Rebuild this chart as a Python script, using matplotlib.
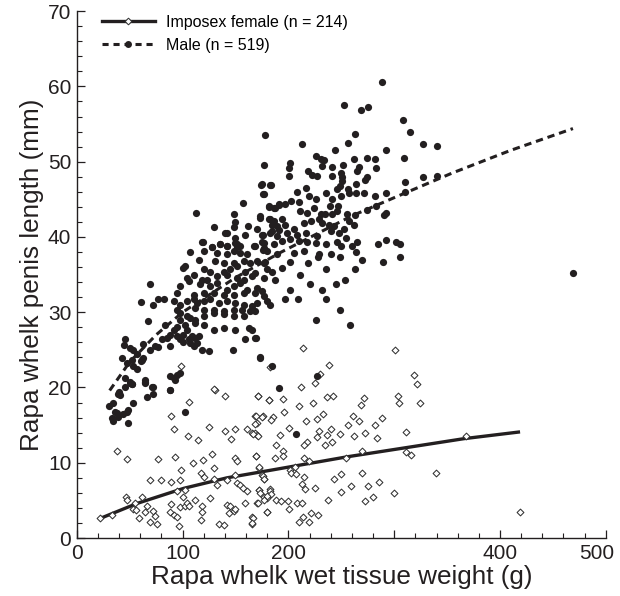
import numpy as np
import matplotlib
matplotlib.use("Agg")
import matplotlib.pyplot as plt
from matplotlib.lines import Line2D
from matplotlib.ticker import MultipleLocator
from matplotlib.transforms import ScaledTranslation

plt.rcParams["font.family"] = ["Liberation Sans", "DejaVu Sans"]

# male penis length vs wet tissue weight
male_w = [
    119.2, 119.8, 107.2, 127.7, 135.6, 141.9, 149.8, 151.4, 148.2, 132.4, 141.9, 154.6, 160.9, 167.2,
    175.1, 176.0, 170.4, 176.7, 164.0, 157.7, 148.2, 138.8, 130.9, 115.1, 102.4, 100.8, 119.8, 126.1,
    138.8, 145.1, 151.4, 159.3, 168.8, 179.8, 110.3, 118.2, 123.0, 132.4, 141.9, 151.4, 157.7, 165.6,
    176.7, 104.0, 105.6, 69.2,
    97.7, 116.6, 126.1, 132.4, 141.9, 148.2, 154.6, 160.9, 170.4, 175.1, 94.5, 110.3, 119.8, 129.3,
    138.8, 148.2, 157.7, 168.8, 176.7, 60.4, 77.1, 81.9, 72.4, 91.4, 97.7, 104.0, 110.3, 113.5, 119.8,
    126.1, 134.0, 141.9, 149.8, 157.7, 165.6, 170.4, 179.8, 94.5, 97.7, 104.0, 111.9, 119.8, 129.3,
    138.8, 148.2, 156.1, 164.0, 168.8, 97.7, 107.2, 111.9, 119.8, 129.3, 138.8, 148.2, 157.7, 67.7,
    83.5, 94.5, 102.4, 104.0, 111.9, 119.8, 129.3, 138.8, 149.8, 162.5, 165.6,
    45.5, 44.6, 50.3, 53.4, 42.4, 47.1, 51.9, 56.6, 61.3, 62.9, 62.3, 69.2, 74.0, 77.1, 80.3, 85.0,
    88.2, 91.4, 94.5, 97.7, 100.8, 88.2, 100.8, 105.6, 108.7, 107.2, 110.3, 113.5, 111.9, 115.1,
    118.2, 124.5, 159.3, 168.8, 147.6, 172.9, 53.4, 56.6, 60.4, 45.5, 50.3, 51.9, 45.5, 64.5, 64.5,
    70.8, 88.2, 91.4, 94.5, 88.2, 97.7,
    33.8, 30.7, 40.1, 40.8, 39.2, 50.3, 51.9, 64.5, 71.7, 71.7, 66.0, 53.4, 48.7, 47.1, 44.0, 37.6,
    36.0, 32.9, 33.8, 39.2, 48.7, 88.2, 102.4, 93.0,
    169.7, 172.8, 184.5, 190.9, 227.2, 206.7,
    288.8, 252.8, 268.9, 275.3, 308.7, 315.4, 327.7, 340.0, 309.4, 178.2, 212.4, 262.6, 256.3, 244.0,
    292.0, 226.3, 177.3, 201.3, 200.4, 201.0, 231.0, 233.5, 232.0, 240.8, 251.9, 262.0, 274.0, 281.9,
    282.5, 266.7, 265.1, 218.7, 222.5, 227.2, 240.8, 250.0, 250.9, 250.3, 274.0, 272.4, 263.6, 248.7,
    245.5, 256.6, 257.2, 263.6, 271.5, 281.9, 292.0, 310.3, 327.7, 340.0, 310.0, 175.1, 183.0, 176.0,
    208.3, 216.8, 219.3, 225.6, 235.1, 241.4, 249.3, 239.2, 246.8, 181.4, 187.7, 190.9, 197.2, 202.6,
    209.8, 211.4, 217.7, 224.1, 230.4, 234.5, 241.4, 246.2, 255.7, 262.9, 274.6, 282.5, 292.0, 290.4,
    173.5, 181.4, 186.1, 194.0, 197.2, 205.1, 214.6, 220.9, 228.8, 232.0, 238.3, 243.0, 252.5, 257.2,
    262.0, 175.1, 183.0, 190.9, 198.8, 208.3, 216.2, 227.2, 239.9, 247.8, 254.1, 265.1, 260.4, 263.6,
    292.0, 305.6, 176.7, 186.1, 194.0, 201.9, 209.8, 217.7, 225.6, 235.1, 246.2, 249.3, 179.8, 189.3,
    205.1, 214.6, 228.8, 239.9,
    174.4, 183.6, 176.6, 157.0, 112.5, 148.2, 181.4, 186.1, 190.9, 172.8, 182.3, 149.8, 148.2, 129.2,
    161.8, 184.5, 189.3, 184.5, 139.7, 141.9, 170.3, 176.0, 189.3, 159.3, 149.1, 118.2, 135.6, 127.7,
    141.9, 151.4, 154.5, 168.7, 176.6,
    194.0, 201.5, 211.0, 218.5, 228.0, 235.6, 248.8, 253.5, 263.0, 269.6, 284.8, 289.5, 301.8, 305.6,
    201.5, 209.0, 235.6, 248.8, 226.0, 258.3, 187.3, 196.8, 182.6, 220.4, 231.8, 245.0, 177.9, 184.5,
    469.0,
]
male_len = [
    39.3, 38.1, 38.0, 38.6, 39.0, 38.8, 39.2, 38.6, 38.1, 37.9, 37.7, 37.9, 37.7, 38.8,
    39.3, 38.3, 36.8, 36.6, 36.6, 36.8, 36.6, 36.6, 36.8, 37.0, 36.1, 35.9, 35.7, 35.4,
    35.4, 35.7, 36.1, 35.4, 35.2, 35.7, 35.0, 34.3, 34.3, 34.8, 35.0, 34.6, 34.3, 34.8,
    34.6, 34.6, 34.1, 33.8,
    33.5, 33.7, 33.5, 33.9, 33.0, 33.5, 33.9, 33.0, 33.2, 32.8, 32.6, 32.3, 32.6, 32.6,
    32.3, 32.3, 32.6, 32.6, 32.1, 31.4, 31.8, 31.7, 31.0, 31.5, 31.0, 31.5, 31.7, 31.2, 31.5,
    31.7, 31.2, 31.5, 31.2, 31.0, 30.8, 31.2, 31.5, 30.3, 29.9, 29.5, 30.6, 30.3, 30.3,
    30.1, 30.3, 30.3, 30.1, 30.1, 29.0, 29.2, 29.0, 29.5, 29.9, 29.7, 29.5, 29.5, 28.8,
    28.3, 28.1, 28.3, 27.7, 28.6, 28.3, 27.7, 27.9, 27.7, 27.9, 27.7,
    26.4, 25.7, 25.2, 25.0, 23.9, 23.2, 23.7, 24.4, 23.7, 23.9, 25.8, 25.0, 25.5, 25.4, 26.4, 26.6,
    27.0, 27.7, 26.8, 26.4, 27.0, 25.5, 26.1, 26.4, 26.8, 25.9, 25.5, 25.9, 26.6, 26.8,
    25.0, 24.8, 26.4, 26.6, 25.0, 24.0, 22.8, 22.4, 23.5, 21.3, 20.6, 20.4, 20.1, 21.0, 20.6,
    20.1, 21.5, 21.3, 21.7, 19.7, 21.9,
    17.9, 17.6, 19.4, 19.0, 19.1, 20.7, 20.5, 20.7, 20.1, 19.1, 18.7, 17.9, 17.0, 16.8, 16.5, 16.6,
    16.7, 15.9, 15.5, 16.1, 15.3, 19.7, 16.7, 21.0,
    26.6, 23.9, 22.8, 19.9, 21.5, 13.8,
    60.6, 57.5, 56.8, 57.3, 55.6, 54.0, 52.4, 52.1, 50.5, 53.5, 52.3, 53.7, 52.5, 51.5,
    51.5, 50.8, 49.5, 49.8, 49.1, 48.1, 50.3, 50.2, 49.4, 49.3, 49.5, 50.3, 50.5, 50.3,
    49.2, 49.3, 48.8, 48.8, 48.2, 48.1, 48.1, 48.5, 47.9, 47.4, 48.0, 47.6, 47.1, 46.8,
    46.4, 46.4, 45.9, 45.9, 45.9, 45.4, 45.9, 47.3, 48.0, 48.1, 46.0, 47.0, 46.9, 45.7,
    46.0, 46.5, 45.5, 45.0, 45.9, 45.0, 45.4, 44.1, 44.1, 44.1, 43.9, 44.4, 44.4, 44.8,
    44.6, 43.4, 43.2, 43.9, 43.1, 43.0, 43.1, 43.4, 43.1, 42.9, 43.6, 44.1, 43.2, 42.9,
    42.8, 42.4, 42.1, 42.4, 41.6, 41.1, 41.9, 42.1, 42.4, 41.9, 41.6, 41.4, 41.1, 42.1,
    41.6, 40.3, 40.5, 40.9, 40.5, 40.3, 40.5, 40.1, 40.8, 40.5, 39.9, 39.3, 38.8, 38.0,
    39.6, 39.1, 39.2, 39.0, 39.4, 39.7, 39.4, 39.3, 39.2, 39.0, 39.3, 38.8, 38.1, 37.7,
    37.9, 38.1, 37.7, 37.7,
    46.9, 46.9, 45.7, 44.5, 43.2, 43.1, 44.0, 43.9, 44.3, 42.5, 42.4, 42.0, 41.3, 41.3,
    41.5, 41.6, 41.4, 40.8, 40.5, 40.5, 41.0, 40.3, 40.1, 40.3, 39.9, 39.3, 39.0, 38.6,
    38.8, 39.0, 38.8, 38.8, 38.5,
    35.9, 36.7, 35.0, 36.5, 37.3, 35.7, 37.3, 34.3, 35.7, 36.9, 39.1, 36.7, 39.3, 37.3,
    33.0, 31.7, 31.7, 30.3, 29.0, 28.3, 34.3, 31.7, 31.0, 33.7, 33.0, 33.7, 36.7, 35.4,
    35.2,
]

# imposex female penis length vs wet tissue weight
female_w = [
    21.8, 32.9, 37.6, 47.1, 46.4, 47.1, 55.0, 61.3, 53.4, 55.9, 59.1, 66.0, 64.5, 72.4, 74.0, 69.2,
    75.5, 69.2, 79.3, 77.1, 89.1, 105.6, 92.0, 104.6, 93.0, 89.1, 97.7, 98.6, 95.1, 102.4, 89.1, 88.2,
    91.4, 95.1, 96.1, 97.7, 102.4, 100.8, 104.0, 105.6, 109.7, 111.9, 114.4, 119.2, 119.8, 117.6,
    118.2, 118.2, 117.6, 124.5, 127.7, 129.3, 129.3, 130.2, 132.4, 126.1, 134.0, 139.4, 139.7, 140.3,
    141.9, 141.9, 145.1, 143.5, 146.0, 149.2, 149.8, 151.4, 149.8, 151.4, 154.6, 157.0, 148.2, 149.8,
    159.3, 160.9, 165.6, 160.9, 165.6, 165.6, 168.8, 170.4, 168.8, 170.4, 171.0, 175.7, 169.7, 172.0,
    175.1, 176.7, 172.0, 170.4, 176.7, 179.8, 179.8, 181.4, 182.3, 98.6, 129.9, 182.9,
    213.6, 238.3, 229.7, 224.7, 212.3, 300.8, 318.8, 321.4, 324.5, 304.0, 304.6, 311.0, 171.0, 182.0,
    194.7, 209.8, 223.1, 236.7, 242.4, 271.4, 268.3, 195.6, 169.4, 175.4, 185.2, 183.9, 168.7, 166.5,
    171.0, 192.4, 200.3, 216.5, 227.2, 232.9, 239.8, 228.8, 227.2, 236.0, 240.8, 234.2, 217.1, 214.6,
    248.7, 256.3, 261.0, 266.7, 262.0, 272.4, 281.6, 283.4, 288.8, 188.6, 194.7, 194.7, 187.7, 169.7,
    214.6, 219.9, 254.4, 269.9, 311.3, 315.7, 367.8, 171.9, 176.0, 176.6, 201.3, 206.0, 202.9, 206.7,
    214.6, 213.0, 216.1, 225.0, 243.0, 250.0, 269.2, 259.4, 275.5, 285.7, 250.0, 237.3, 272.1, 280.0,
    299.9, 339.7, 418.7, 171.9, 173.5, 182.3, 183.6, 179.8, 177.3, 171.3, 188.6, 193.4, 199.7, 208.2,
    213.0, 201.0, 179.8, 166.2, 165.6, 213.6, 220.9, 227.8, 209.8, 219.9,
]
female_len = [
    2.6, 3.1, 11.6, 10.5, 5.4, 5.0, 4.6, 5.4, 3.8, 3.7, 2.6, 4.2, 3.5, 3.6, 2.9, 2.1,
    1.9, 7.7, 7.7, 10.5, 16.2, 18.1, 14.5, 13.6, 10.8, 7.5, 7.7, 9.1, 6.2, 6.4, 4.5, 3.5,
    3.1, 2.8, 1.6, 4.1, 4.3, 5.5, 4.7, 4.2, 9.9, 5.1, 13.0, 10.3, 8.1, 8.6,
    4.3, 3.4, 2.4, 14.7, 11.2, 9.3, 7.9, 19.6, 7.1, 5.3, 1.9, 1.7, 18.9, 14.2,
    7.7, 4.4, 4.3, 3.3, 13.2, 10.6, 14.5, 10.2, 8.4, 7.3, 7.1, 6.7, 3.6, 3.9,
    4.6, 14.5, 13.9, 6.2, 2.8, 1.9, 13.9, 13.7, 16.2, 15.3, 18.9, 16.2, 10.9, 9.3,
    8.4, 7.9, 6.4, 4.7, 5.5, 5.3, 3.5, 18.4, 6.5, 22.9, 19.8, 22.7,
    25.2, 23.0, 21.8, 20.6, 20.1, 25.0, 21.6, 20.5, 17.9, 18.9, 18.0, 14.1, 18.9, 18.4,
    18.5, 17.5, 18.0, 18.7, 18.9, 18.6, 17.7, 16.7, 16.2, 16.1, 16.1, 15.7, 15.2, 13.8,
    13.5, 13.7, 14.6, 15.5, 15.8, 16.5, 14.5, 14.2, 13.4, 13.7, 12.7, 12.4, 12.7, 12.3,
    13.8, 15.0, 16.2, 15.6, 13.5, 13.9, 15.0, 13.3, 16.0, 12.4, 11.6, 10.9, 10.6, 10.9,
    10.6, 10.2, 10.6, 11.6, 11.4, 11.0, 13.5, 9.4, 8.3, 7.9, 9.1, 9.5, 8.6, 8.5,
    8.1, 7.2, 6.5, 6.7, 7.8, 8.5, 8.7, 6.9, 6.9, 7.4, 6.1, 5.1, 4.9, 5.4,
    6.0, 8.7, 3.4, 6.4, 6.0, 6.3, 5.8, 5.6, 5.1, 4.6, 5.1, 4.9, 4.9, 4.6,
    4.7, 3.8, 3.5, 2.7, 2.0, 2.8, 3.3, 3.1, 2.1, 2.1,
]

# fitted curves
male_fit_w = [31, 50, 75, 100, 150, 192, 260, 303, 355, 410, 469]
male_fit_len = [19.6, 23.4, 27.0, 30.0, 34.6, 37.9, 42.8, 45.4, 48.5, 51.5, 54.4]
female_fit_w = [22, 57, 101, 142, 183, 256, 366, 419]
female_fit_len = [2.6, 4.6, 6.6, 8.0, 9.0, 10.8, 13.2, 14.1]

ink = "#231f20"

fig = plt.figure(figsize=(6.2, 5.96), dpi=100)
ax = fig.add_axes([0.124, 0.0973, 0.853, 0.884])

ax.plot(female_fit_w, female_fit_len, color=ink, lw=2.4, solid_capstyle="butt", zorder=2)
ax.plot(male_fit_w, male_fit_len, color=ink, lw=2.2, ls=(0, (2.4, 1.6)), zorder=2)
ax.scatter(female_w, female_len, marker="D", s=12, facecolor="white", edgecolor="#333333",
           linewidths=0.75, zorder=3)
ax.scatter(male_w, male_len, marker="o", s=27, color=ink, linewidths=0, zorder=3)

ax.set_xlim(0, 500)
ax.set_ylim(0, 70)
ax.xaxis.set_minor_locator(MultipleLocator(20))
ax.yaxis.set_major_locator(MultipleLocator(10))
ax.yaxis.set_minor_locator(MultipleLocator(2))
ax.set_xticks([0, 100, 200, 300, 400, 500])
ax.set_xticklabels(["0", "100", "200", "", "400", "500"])
for side in ["top", "right"]:
    ax.spines[side].set_visible(False)
for side in ["left", "bottom"]:
    ax.spines[side].set_linewidth(1.0)
    ax.spines[side].set_color(ink)
ax.tick_params(which="major", direction="in", length=6, width=0.9, labelsize=15,
               colors=ink, pad=4)
ax.tick_params(which="minor", direction="in", length=3.5, width=0.8, colors=ink)

# the last x label sits a little left of its tick in the original
last = ax.get_xticklabels()[-1]
last.set_transform(last.get_transform() + ScaledTranslation(-0.09, 0, fig.dpi_scale_trans))

ax.set_xlabel("Rapa whelk wet tissue weight (g)", fontsize=18.8, color=ink, labelpad=2)
ax.set_ylabel("Rapa whelk penis length (mm)", fontsize=18.8, color=ink, labelpad=3)

handles = [
    Line2D([], [], color=ink, lw=2.4, marker="D", markersize=3.4, markerfacecolor="white",
           markeredgecolor="#333333", markeredgewidth=0.75),
    Line2D([], [], color=ink, lw=2.2, ls=(0, (2.0, 1.6)), marker="o", markersize=5,
           markerfacecolor=ink, markeredgewidth=0),
]
ax.legend(handles, ["Imposex female (n = 214)", "Male (n = 519)"], loc="upper left",
          bbox_to_anchor=(0.02, 1.02), frameon=False, fontsize=11.5, handlelength=3.3,
          handletextpad=0.7, labelspacing=0.5, numpoints=1)

fig.savefig("out.png", dpi=100)
